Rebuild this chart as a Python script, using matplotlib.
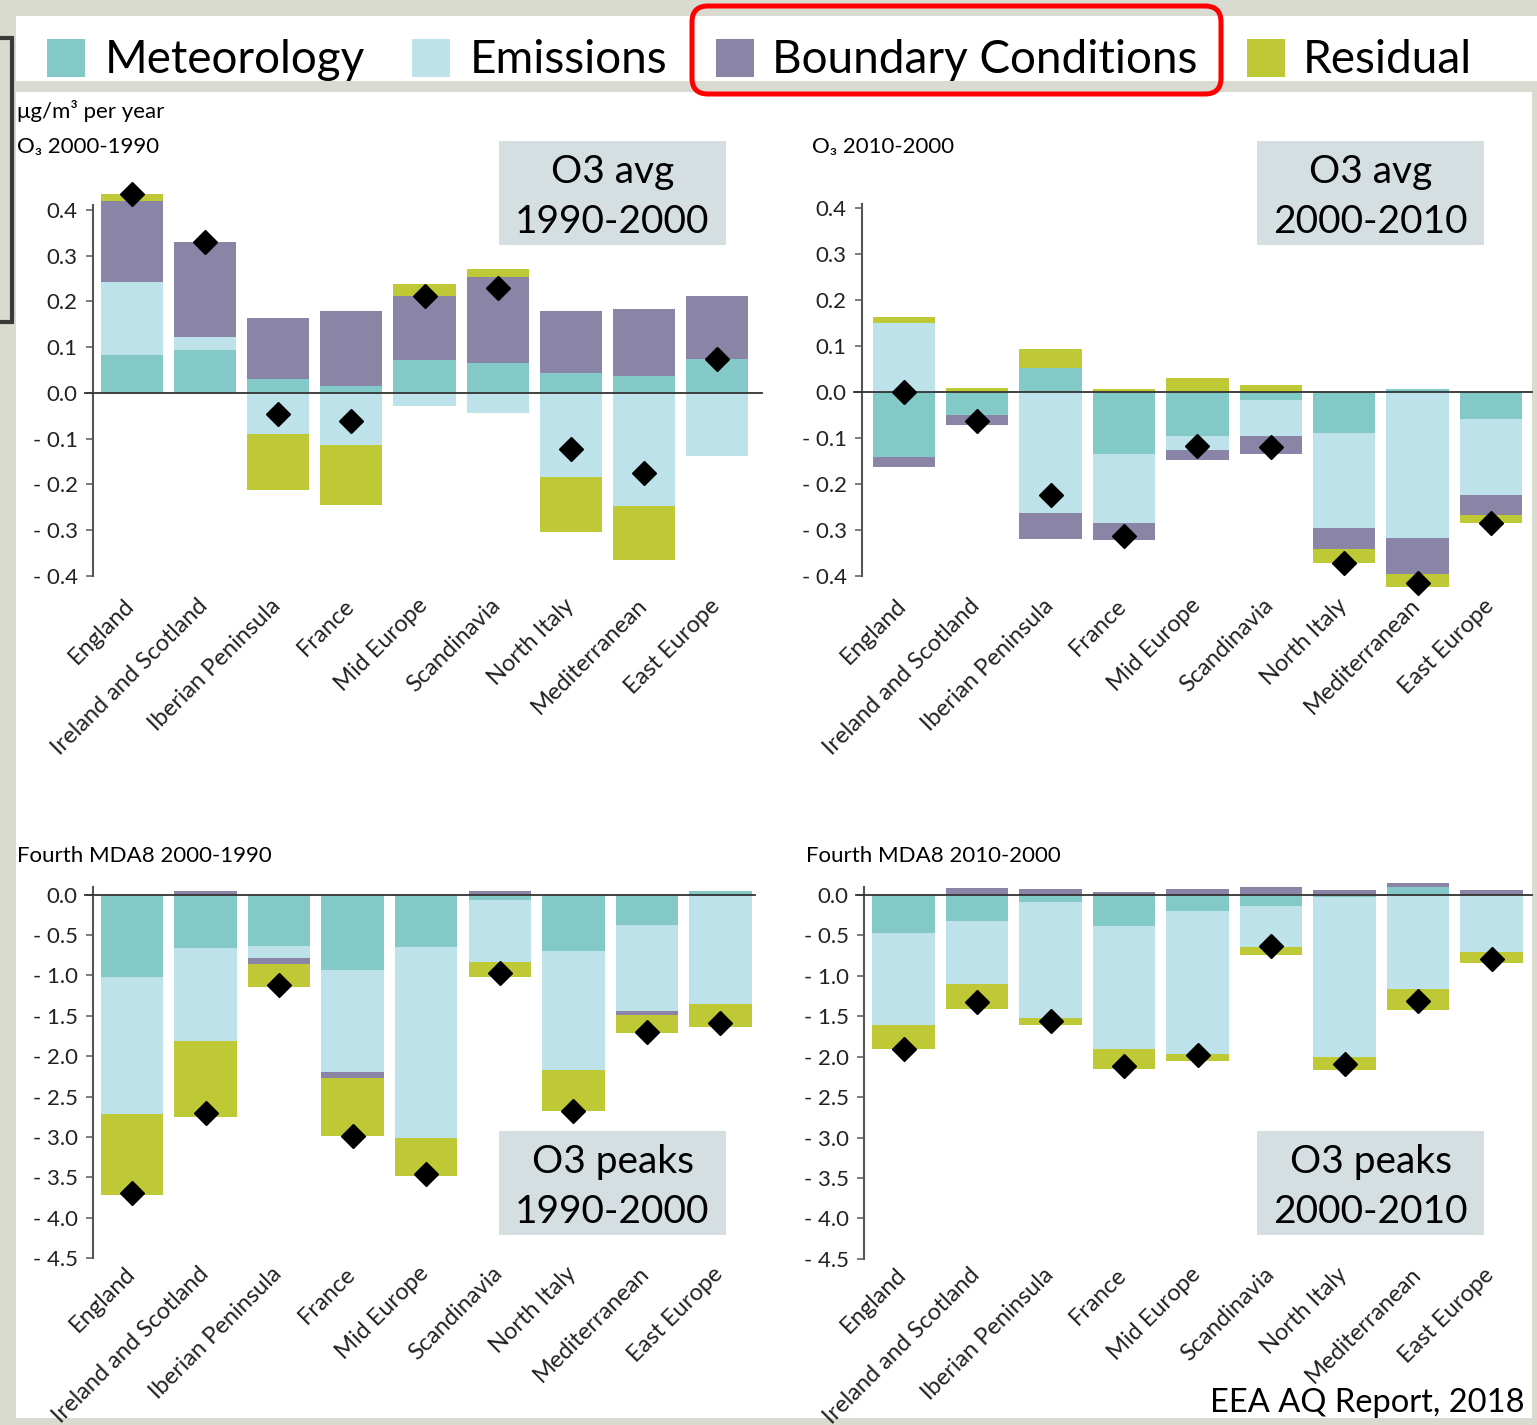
import numpy as np
import matplotlib.pyplot as plt
from matplotlib.patches import Rectangle, FancyBboxPatch
from matplotlib.transforms import ScaledTranslation

# ---------------- data ----------------
regions = ['England', 'Ireland and Scotland', 'Iberian Peninsula', 'France',
           'Mid Europe', 'Scandinavia', 'North Italy', 'Mediterranean', 'East Europe']
components = ['Meteorology', 'Emissions', 'Boundary Conditions', 'Residual']

# O3 annual mean, 2000-1990
met_avg_90s = [0.082, 0.093, 0.031, 0.016, 0.072, 0.066, 0.043, 0.037, 0.073]
emis_avg_90s = [0.161, 0.030, -0.090, -0.115, -0.028, -0.043, -0.184, -0.247, -0.138]
bc_avg_90s = [0.176, 0.207, 0.133, 0.162, 0.140, 0.188, 0.135, 0.147, 0.138]
res_avg_90s = [0.017, 0.000, -0.123, -0.130, 0.026, 0.017, -0.120, -0.118, 0.000]
tot_avg_90s = [0.435, 0.330, -0.046, -0.062, 0.212, 0.230, -0.122, -0.176, 0.074]

# O3 annual mean, 2010-2000
met_avg_00s = [-0.142, -0.050, 0.053, -0.136, -0.097, -0.017, -0.090, 0.007, -0.059]
emis_avg_00s = [0.150, 0.000, -0.263, -0.149, -0.030, -0.078, -0.206, -0.317, -0.165]
bc_avg_00s = [-0.022, -0.022, -0.058, -0.037, -0.022, -0.040, -0.045, -0.079, -0.044]
res_avg_00s = [0.014, 0.008, 0.040, 0.006, 0.030, 0.016, -0.032, -0.029, -0.018]
tot_avg_00s = [0.000, -0.064, -0.224, -0.313, -0.117, -0.121, -0.372, -0.416, -0.286]

# Fourth highest MDA8, 2000-1990
met_pk_90s = [-1.02, -0.66, -0.63, -0.93, -0.65, -0.06, -0.70, -0.38, 0.05]
emis_pk_90s = [-1.70, -1.15, -0.155, -1.27, -2.36, -0.78, -1.47, -1.06, -1.35]
bc_pk_90s = [0.0, 0.04, -0.075, -0.07, 0.0, 0.05, 0.0, -0.05, 0.0]
res_pk_90s = [-1.00, -0.94, -0.28, -0.72, -0.47, -0.18, -0.51, -0.22, -0.29]
tot_pk_90s = [-3.70, -2.71, -1.12, -2.99, -3.46, -0.97, -2.68, -1.70, -1.59]

# Fourth highest MDA8, 2010-2000
met_pk_00s = [-0.47, -0.32, -0.095, -0.39, -0.20, -0.14, -0.03, 0.10, 0.0]
emis_pk_00s = [-1.14, -0.78, -1.425, -1.51, -1.77, -0.51, -1.98, -1.17, -0.71]
bc_pk_00s = [0.0, 0.08, 0.066, 0.04, 0.066, 0.09, 0.058, 0.05, 0.058]
res_pk_00s = [-0.30, -0.31, -0.09, -0.25, -0.08, -0.09, -0.15, -0.25, -0.13]
tot_pk_00s = [-1.91, -1.33, -1.56, -2.11, -1.98, -0.63, -2.09, -1.31, -0.79]

avg_ticks = [0.4, 0.3, 0.2, 0.1, 0.0, -0.1, -0.2, -0.3, -0.4]
pk_ticks = [0.0, -0.5, -1.0, -1.5, -2.0, -2.5, -3.0, -3.5, -4.0, -4.5]

colors = ['#82c9c7', '#bde2ea', '#8a84a6', '#bfc935']

# ---------------- layout ----------------
W, H = 1537, 1425
BG = '#d9dbd0'
plt.rcParams['font.family'] = ['Lato', 'DejaVu Sans']

fig = plt.figure(figsize=(W / 100, H / 100), dpi=100)
fig.patch.set_facecolor(BG)

bg = fig.add_axes([0, 0, 1, 1])
bg.set_xlim(0, W)
bg.set_ylim(H, 0)
bg.axis('off')
bg.set_zorder(-1)

# white sheets
bg.add_patch(Rectangle((16, 16), W - 16, 65, facecolor='white', lw=0))
bg.add_patch(Rectangle((16, 92), 1516, 1326, facecolor='white', lw=0))
# dark bracket on left edge
bg.plot([0, 12, 12, 0], [38, 38, 322, 322], color='#3a3a3a', lw=3, solid_joinstyle='miter')

# legend
legend_x = [(47, 105), (412, 470), (716, 772), (1247, 1303)]
for (px, tx), name, c in zip(legend_x, components, colors):
    bg.add_patch(Rectangle((px, 39), 38, 38, facecolor=c, lw=0))
    bg.text(tx, 73, name, fontsize=33, va='baseline', ha='left', color='black')
bg.add_patch(FancyBboxPatch((692, 6), 529, 88, boxstyle='round,pad=0,rounding_size=16',
                            fill=False, edgecolor='#ff0000', lw=3.6))

# panel titles
bg.text(17, 111, 'μg/m³ per year', fontsize=16, va='center', ha='left')
bg.text(17, 147, 'O₃ 2000-1990', fontsize=16, va='center', ha='left')
bg.text(812, 147, 'O₃ 2010-2000', fontsize=16, va='center', ha='left')
bg.text(17, 856, 'Fourth MDA8 2000-1990', fontsize=16, va='center', ha='left')
bg.text(806, 856, 'Fourth MDA8 2010-2000', fontsize=16, va='center', ha='left')

# grey label boxes
box_labels = [(499, 141, 'O3 avg', '1990-2000'), (1257, 141, 'O3 avg', '2000-2010'),
              (499, 1131, 'O3 peaks', '1990-2000'), (1257, 1131, 'O3 peaks', '2000-2010')]
for bx, by, l1, l2 in box_labels:
    bg.add_patch(Rectangle((bx, by), 227, 104, facecolor='#d5dee0', lw=0))
    bg.text(bx + 113.5, by + 42, l1, fontsize=28, ha='center', va='baseline')
    bg.text(bx + 113.5, by + 92, l2, fontsize=28, ha='center', va='baseline')


def place_axes(left, top, right, bottom):
    """Add an axes given its pixel box in the figure."""
    ax = fig.add_axes([left / W, 1 - bottom / H, (right - left) / W, (bottom - top) / H])
    ax.set_facecolor('none')
    return ax


def tick_text(t):
    if t > 0:
        return f'{t:.1f}'
    if t == 0:
        return '0.0'
    return f'- {abs(t):.1f}'


def draw_panel(ax, parts, total, ticks, xlim, ylim, spine_top):
    """Diverging stacked bars with a diamond for the total change."""
    x = np.arange(len(regions))
    pos = np.zeros(len(x))
    neg = np.zeros(len(x))
    for vals, c in zip(parts, colors):
        vals = np.asarray(vals, dtype=float)
        bottom = np.where(vals >= 0, pos, neg)
        ax.bar(x, vals, bottom=bottom, width=0.85, color=c, linewidth=0, zorder=2)
        pos = pos + np.clip(vals, 0, None)
        neg = neg + np.clip(vals, None, 0)
    ax.plot([xlim[0] - 0.11, xlim[1]], [0, 0], color='#333333', lw=1.3, zorder=3, clip_on=False)
    ax.plot(x, total, 'D', color='black', markersize=12, zorder=4, clip_on=False)

    ax.set_xlim(*xlim)
    ax.set_ylim(*ylim)
    for s in ['top', 'right', 'bottom']:
        ax.spines[s].set_visible(False)
    ax.spines['left'].set_color('#555555')
    ax.spines['left'].set_linewidth(1.5)
    ax.spines['left'].set_bounds(min(ticks), spine_top)
    ax.set_yticks(ticks)
    ax.set_yticklabels([tick_text(t) for t in ticks])
    ax.tick_params(axis='y', length=5, width=1.2, color='#666666', pad=6, labelsize=16,
                   labelcolor='#222222')
    ax.set_xticks(x)
    ax.set_xticklabels(regions, rotation=45, ha='right', rotation_mode='anchor', fontsize=17,
                       color='#222222')
    ax.tick_params(axis='x', length=0, pad=2)
    shift = ScaledTranslation(-0.08, 0.02, fig.dpi_scale_trans)
    for lab in ax.get_xticklabels():
        lab.set_transform(lab.get_transform() + shift)


ax1 = place_axes(93, 178, 762, 594)
draw_panel(ax1, [met_avg_90s, emis_avg_90s, bc_avg_90s, res_avg_90s], tot_avg_90s,
           avg_ticks, (-0.53, 8.61), (-0.44, 0.47), 0.41)

ax2 = place_axes(862, 176, 1532, 594)
draw_panel(ax2, [met_avg_00s, emis_avg_00s, bc_avg_00s, res_avg_00s], tot_avg_00s,
           avg_ticks, (-0.57, 8.56), (-0.44, 0.47), 0.41)

ax3 = place_axes(93, 885, 755, 1262)
draw_panel(ax3, [met_pk_90s, emis_pk_90s, bc_pk_90s, res_pk_90s], tot_pk_90s,
           pk_ticks, (-0.53, 8.47), (-4.55, 0.12), 0.1)

ax4 = place_axes(864, 881, 1532, 1263)
draw_panel(ax4, [met_pk_00s, emis_pk_00s, bc_pk_00s, res_pk_00s], tot_pk_00s,
           pk_ticks, (-0.54, 8.55), (-4.55, 0.17), 0.09)

# thin grey frame at right and bottom edges
bg.add_patch(Rectangle((1532, 92), 5, H - 92, facecolor=BG, lw=0, zorder=5))
bg.add_patch(Rectangle((0, 1418), W, 7, facecolor=BG, lw=0, zorder=5))
bg.text(1210, 1412, 'EEA AQ Report, 2018', fontsize=23.5, ha='left', va='baseline', zorder=6)

fig.savefig('out.png', dpi=100, facecolor=fig.get_facecolor())
